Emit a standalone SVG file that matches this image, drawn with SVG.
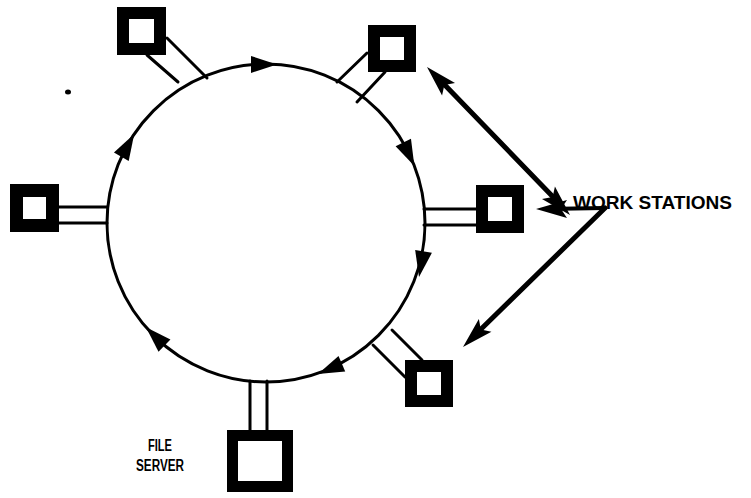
<svg xmlns="http://www.w3.org/2000/svg" width="751" height="498" viewBox="0 0 751 498">
<style>
.ring{fill:none;stroke:#000;stroke-width:3}
.link{stroke:#000;stroke-width:3;fill:none;stroke-linecap:round}
.box{fill:#fff;stroke:#000;stroke-width:12}
.ptr{stroke:#000;stroke-width:5;fill:none;stroke-linecap:round}
.lbl{font-family:"Liberation Sans",Arial,sans-serif;font-weight:bold;fill:#000}
</style>
<defs>
<path id="ca" d="M0,0 L-26,-8.5 L-26,8.5 Z" fill="#000"/>
<path id="ba" d="M0,0 L-31,-9 L-25,0 L-31,9 Z" fill="#000"/>
</defs>
<rect width="751" height="498" fill="#fff"/>
<ellipse cx="68" cy="92" rx="3" ry="2.5" fill="#000"/>
<g id="ring">
<circle class="ring" cx="266" cy="223" r="159"/>
<use href="#ca" transform="translate(277,64.4) rotate(0)"/>
<use href="#ca" transform="translate(414.4,166) rotate(64.7)"/>
<use href="#ca" transform="translate(419,277) rotate(100)"/>
<use href="#ca" transform="translate(318,374) rotate(156.7)"/>
<use href="#ca" transform="translate(146,327.3) rotate(224.7)"/>
<use href="#ca" transform="translate(134.2,134.1) rotate(299.7)"/>
</g>
<g id="connectors">
<line class="link" x1="147" y1="55" x2="178" y2="82"/>
<line class="link" x1="167" y1="38" x2="207" y2="78"/>
<line class="link" x1="367" y1="53" x2="337" y2="82"/>
<line class="link" x1="385" y1="72" x2="357" y2="102"/>
<line class="link" x1="59" y1="207" x2="107" y2="207"/>
<line class="link" x1="59" y1="223" x2="107" y2="223"/>
<line class="link" x1="424" y1="209" x2="476" y2="209"/>
<line class="link" x1="424" y1="225" x2="476" y2="225"/>
<line class="link" x1="373" y1="345" x2="405" y2="377"/>
<line class="link" x1="392" y1="330" x2="422" y2="360"/>
<line class="link" x1="250" y1="381" x2="250" y2="430"/>
<line class="link" x1="267" y1="381" x2="267" y2="430"/>
</g>
<g id="ws-top-left"><rect class="box" x="123" y="13" width="37" height="36"/></g>
<g id="ws-top-right"><rect class="box" x="374" y="31" width="36" height="35"/></g>
<g id="ws-left"><rect class="box" x="16.5" y="190.5" width="36" height="35" style="stroke-width:13"/></g>
<g id="ws-right"><rect class="box" x="482" y="191" width="36" height="36"/></g>
<g id="ws-bottom-right"><rect class="box" x="411" y="366" width="36" height="35"/></g>
<g id="file-server">
<rect class="box" x="232.5" y="435.5" width="55" height="51" style="stroke-width:11"/>
<text class="lbl" x="160" y="451" font-size="16" text-anchor="middle" textLength="24" lengthAdjust="spacingAndGlyphs">FILE</text>
<text class="lbl" x="160" y="471" font-size="16" text-anchor="middle" textLength="48" lengthAdjust="spacingAndGlyphs">SERVER</text>
</g>
<g id="work-stations-label">
<line class="ptr" x1="440" y1="80" x2="556" y2="200"/>
<use href="#ba" transform="translate(570,215) rotate(46)"/>
<use href="#ba" transform="translate(427,67) rotate(226)"/>
<line class="ptr" x1="605" y1="208" x2="545" y2="209" style="stroke-width:4"/>
<use href="#ba" transform="translate(536,209) rotate(180)"/>
<line class="ptr" x1="605" y1="208" x2="475" y2="335"/>
<use href="#ba" transform="translate(463,347) rotate(135.6)"/>
<text class="lbl" x="573" y="209" font-size="18" textLength="159" lengthAdjust="spacingAndGlyphs">WORK STATIONS</text>
</g>
</svg>
